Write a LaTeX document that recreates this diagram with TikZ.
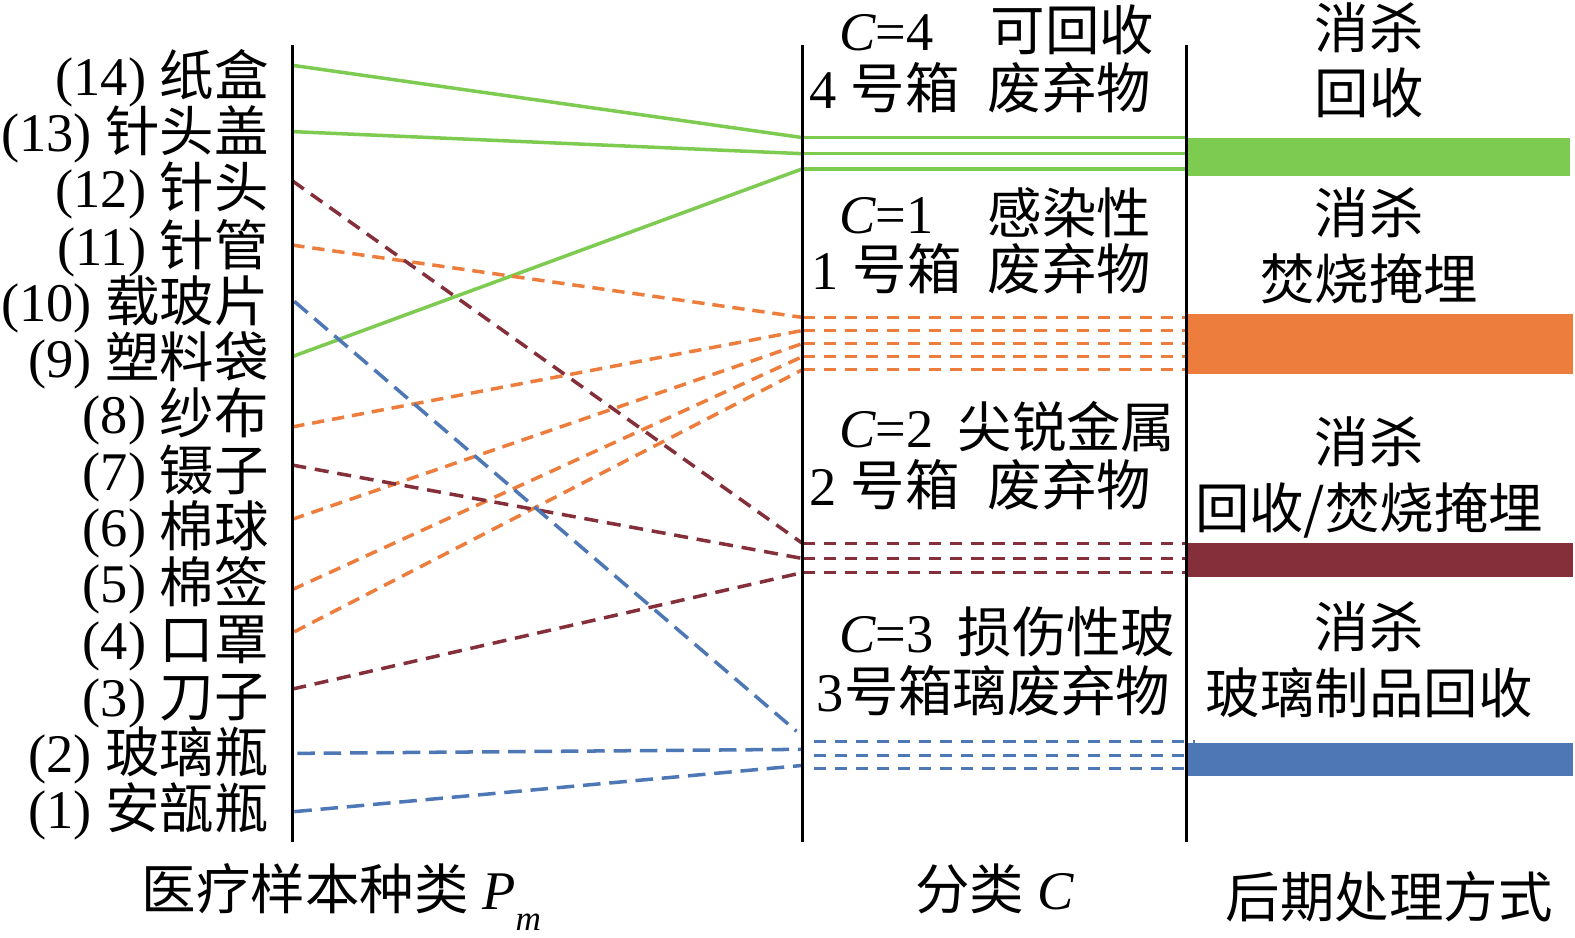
\documentclass[tikz,border=0pt]{standalone}
\usepackage{fontspec}
\setmainfont{Liberation Serif}
\newfontfamily\cjk{Noto Sans CJK SC}
\newcommand{\zh}[1]{{\cjk #1}}
\definecolor{cgreen}{RGB}{125,203,80}
\definecolor{corange}{RGB}{237,125,61}
\definecolor{cred}{RGB}{133,47,58}
\definecolor{cblue}{RGB}{78,119,181}
\begin{document}
\begin{tikzpicture}[x=0.02009cm,y=-0.02009cm,
  txt/.style={inner sep=0pt, font=\fontsize{31}{37}\selectfont},
  lab/.style={txt, anchor=base east},
  lw/.style={txt, anchor=base west},
  mc/.style={txt, anchor=base},
  axisln/.style={line width=1.7pt, black},
  gln/.style={cgreen, line width=2pt},
  oln/.style={corange, line width=2pt, dash pattern=on 7pt off 4.5pt},
  rln/.style={cred, line width=2pt, dash pattern=on 8pt off 5pt},
  bln/.style={cblue, line width=2pt, dash pattern=on 10pt off 5pt},
  hln/.style={line width=1.8pt, dash pattern=on 7pt off 5pt},
]
\useasboundingbox (0,0) rectangle (1568,933);

% colour bars
\fill[cgreen] (1181,137) rectangle (1563,175);
\fill[corange] (1181,313) rectangle (1566,372);
\fill[cred] (1181,541) rectangle (1566,574);
\fill[cblue] (1181,740) rectangle (1566,773);

% axes
\coordinate (A1t) at (291,45); \coordinate (A1b) at (291,838);
\coordinate (A2t) at (799,45); \coordinate (A2b) at (799,838);
\coordinate (A3t) at (1181,45); \coordinate (A3b) at (1181,838);

% left end points
\coordinate (L14) at (291,65);
\coordinate (L13) at (291,131);
\coordinate (L12) at (291,180);
\coordinate (L11) at (291,244);
\coordinate (L10) at (293,300);
\coordinate (L9) at (291,355);
\coordinate (L8) at (291,425);
\coordinate (L7) at (291,463);
\coordinate (L6) at (291,517);
\coordinate (L5) at (291,587);
\coordinate (L4) at (293,629);
\coordinate (L3) at (291,686);
\coordinate (L2) at (296,750);
\coordinate (L1) at (293,808);

% middle end points
\coordinate (G1) at (799,137); \coordinate (G1e) at (1181,137);
\coordinate (G2) at (799,153); \coordinate (G2e) at (1181,153);
\coordinate (G3) at (799,168); \coordinate (G3e) at (1181,168);
\coordinate (O1) at (799,316); \coordinate (O1e) at (1181,316);
\coordinate (O2) at (799,329); \coordinate (O2e) at (1181,329);
\coordinate (O3) at (799,342); \coordinate (O3e) at (1181,342);
\coordinate (O4) at (799,355); \coordinate (O4e) at (1181,355);
\coordinate (O5) at (799,368); \coordinate (O5e) at (1181,368);
\coordinate (R1) at (799,541); \coordinate (R1e) at (1181,541);
\coordinate (R2) at (799,556); \coordinate (R2e) at (1181,556);
\coordinate (R3) at (799,570); \coordinate (R3e) at (1181,570);
\coordinate (B0) at (793,728);
\coordinate (B1) at (799,746);
\coordinate (B2) at (799,762);
\coordinate (H1) at (810,738); \coordinate (H1e) at (1190,738);
\coordinate (H2) at (810,752); \coordinate (H2e) at (1181,752);
\coordinate (H3) at (810,765); \coordinate (H3e) at (1181,765);

% horizontal bundles
\draw[gln] (G1) -- (G1e);
\draw[gln] (G2) -- (G2e);
\draw[gln] (G3) -- (G3e);
\foreach \a in {O1,O2,O3,O4,O5} \draw[hln, corange] (\a) -- (\a e);
\foreach \a in {R1,R2,R3} \draw[hln, cred] (\a) -- (\a e);
\foreach \a in {H1,H2,H3} \draw[hln, cblue] (\a) -- (\a e);

% connectors
\draw[gln] (L14) -- (G1);
\draw[gln] (L13) -- (G2);
\draw[gln] (L9) -- (G3);
\draw[oln] (L11) -- (O1);
\draw[oln] (L8) -- (O2);
\draw[oln] (L6) -- (O3);
\draw[oln] (L5) -- (O4);
\draw[oln] (L4) -- (O5);
\draw[rln] (L12) -- (R1);
\draw[rln] (L7) -- (R2);
\draw[rln] (L3) -- (R3);
\draw[bln] (L10) -- (B0);
\draw[bln] (L2) -- (B1);
\draw[bln] (L1) -- (B2);

\draw[axisln] (A1t) -- (A1b);
\draw[axisln] (A2t) -- (A2b);
\draw[axisln] (A3t) -- (A3b);

% left labels
\node[lab] (p14) at (268,95) {(14) \zh{纸盒}};
\node[lab] (p13) at (268,151) {(13) \zh{针头盖}};
\node[lab] (p12) at (268,207) {(12) \zh{针头}};
\node[lab] (p11) at (268,264) {(11) \zh{针管}};
\node[lab] (p10) at (268,320) {(10) \zh{载玻片}};
\node[lab] (p9) at (268,376) {(9) \zh{塑料袋}};
\node[lab] (p8) at (268,432) {(8) \zh{纱布}};
\node[lab] (p7) at (268,488) {(7) \zh{镊子}};
\node[lab] (p6) at (268,544) {(6) \zh{棉球}};
\node[lab] (p5) at (268,600) {(5) \zh{棉签}};
\node[lab] (p4) at (268,657) {(4) \zh{口罩}};
\node[lab] (p3) at (268,713) {(3) \zh{刀子}};
\node[lab] (p2) at (268,769) {(2) \zh{玻璃瓶}};
\node[lab] (p1) at (268,825) {(1) \zh{安瓿瓶}};

% middle column
\node[lw] (c4a) at (835,50) {\textit{C}=4};
\node[lw] (c4b) at (986,50) {\zh{可回收}};
\node[lw] (c4c) at (806,108) {4 \zh{号箱}};
\node[lw] (c4d) at (983,108) {\zh{废弃物}};
\node[lw] (c1a) at (835,232) {\textit{C}=1};
\node[lw] (c1b) at (983,232) {\zh{感染性}};
\node[lw] (c1c) at (808,288) {1 \zh{号箱}};
\node[lw] (c1d) at (983,288) {\zh{废弃物}};
\node[lw] (c2a) at (835,445) {\textit{C}=2};
\node[lw] (c2b) at (953,445) {\zh{尖锐金属}};
\node[lw] (c2c) at (806,503) {2 \zh{号箱}};
\node[lw] (c2d) at (983,503) {\zh{废弃物}};
\node[lw] (c3a) at (835,650) {\textit{C}=3};
\node[lw] (c3b) at (953,650) {\zh{损伤性玻}};
\node[lw] (c3c) at (813,708) {3\zh{号箱}};
\node[lw] (c3d) at (948,708) {\zh{璃废弃物}};

% right column
\node[mc] (t4a) at (1363,48) {\zh{消杀}};
\node[mc] (t4b) at (1363,113) {\zh{回收}};
\node[mc] (t1a) at (1363,232) {\zh{消杀}};
\node[mc] (t1b) at (1363,298) {\zh{焚烧掩埋}};
\node[mc] (t2a) at (1363,460) {\zh{消杀}};
\node[mc] (t2b) at (1363,526) {\zh{回收/焚烧掩埋}};
\node[mc] (t3a) at (1363,645) {\zh{消杀}};
\node[mc] (t3b) at (1363,710) {\zh{玻璃制品回收}};

% bottom captions
\node[lw] (x1) at (141,905) {\zh{医疗样本种类} \textit{P}\raisebox{-0.4em}{\fontsize{20}{20}\selectfont\textit{m}}};
\node[lw] (x2) at (911,905) {\zh{分类} \textit{C}};
\node[lw] (x3) at (1220,913) {\zh{后期处理方式}};
\end{tikzpicture}
\end{document}
